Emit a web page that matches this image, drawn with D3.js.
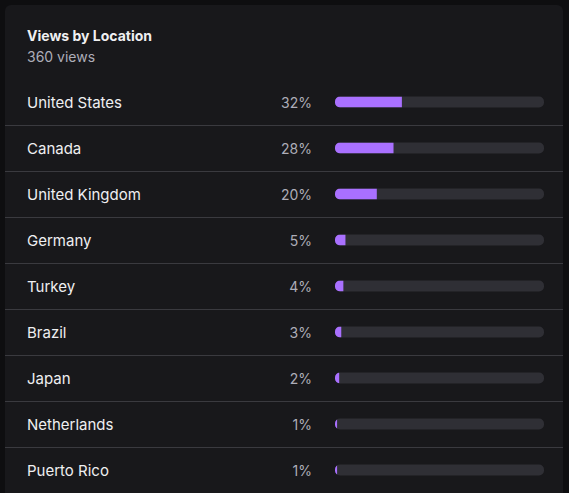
<!DOCTYPE html>
<html>
<head>
<meta charset="utf-8">
<script src="https://cdn.jsdelivr.net/npm/d3@7"></script>
<style>
  body { margin: 0; background: #0e0e10; }
  svg { display: block; font-family: Inter, "Noto Sans", sans-serif; }
</style>
</head>
<body>
<svg id="chart"></svg>
<script>
const countries = ['United States', 'Canada', 'United Kingdom', 'Germany', 'Turkey', 'Brazil', 'Japan', 'Netherlands', 'Puerto Rico'];
const shares = [32, 28, 20, 5, 4, 3, 2, 1, 1];
const title = 'Views by Location';
const subtitle = '360 views';

const width = 569, height = 493;
const svg = d3.select('#chart').attr('width', width).attr('height', height);

// card
svg.append('rect')
  .attr('x', 5).attr('y', 5).attr('width', 558).attr('height', 520)
  .attr('rx', 6).attr('fill', '#18181b');

svg.append('text').attr('x', 27).attr('y', 41)
  .attr('font-size', 14).attr('font-weight', 700).attr('fill', '#efeff1')
  .text(title);
svg.append('text').attr('x', 27).attr('y', 62)
  .attr('font-size', 14).attr('fill', '#adadb8')
  .text(subtitle);

const y = d3.scaleBand().domain(countries).range([79, 79 + 46 * countries.length]);
const x = d3.scaleLinear().domain([0, 100]).range([335, 544]);
const barH = 11;

const row = svg.append('g').selectAll('g')
  .data(countries.map((c, i) => ({ name: c, value: shares[i] })))
  .enter().append('g')
  .attr('transform', d => `translate(0,${y(d.name)})`);

row.filter((d, i) => i > 0).append('line')
  .attr('x1', 5).attr('x2', 563).attr('y1', 0.5).attr('y2', 0.5)
  .attr('stroke', '#3a3a3f').attr('stroke-width', 1);

row.append('text')
  .attr('x', 27).attr('y', y.bandwidth() / 2 + 1).attr('dy', '0.35em')
  .attr('font-size', 15).attr('fill', '#efeff1')
  .text(d => d.name);

row.append('text')
  .attr('x', 312).attr('y', y.bandwidth() / 2 + 1).attr('dy', '0.35em')
  .attr('text-anchor', 'end')
  .attr('font-size', 14).attr('fill', '#adadb8')
  .text(d => d.value + '%');

row.append('rect')
  .attr('x', x(0)).attr('y', y.bandwidth() / 2 - barH / 2)
  .attr('width', x(100) - x(0)).attr('height', barH)
  .attr('rx', 5).attr('fill', '#2f2f35');

// clip so the left end stays rounded while right end is square
const defs = svg.append('defs');
defs.append('clipPath').attr('id', 'track')
  .append('rect').attr('x', x(0)).attr('y', -barH / 2)
  .attr('width', x(100) - x(0)).attr('height', barH).attr('rx', 5);

row.append('g')
  .attr('transform', `translate(0,${y.bandwidth() / 2})`)
  .append('rect')
  .attr('clip-path', 'url(#track)')
  .attr('x', x(0)).attr('y', -barH / 2)
  .attr('width', d => x(d.value) - x(0)).attr('height', barH)
  .attr('fill', '#a970ff');
</script>
</body>
</html>
